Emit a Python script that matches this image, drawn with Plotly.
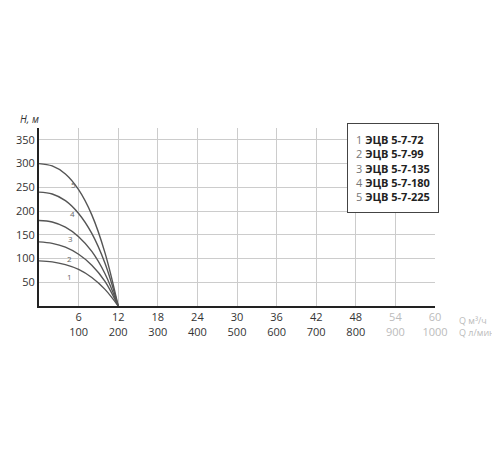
import plotly.graph_objects as go

# flow, m3/h
q = [0, 2, 4, 6, 8, 10, 12]
# head curves, m
h1 = [95, 93, 87, 77, 60, 35, 0]
h2 = [135, 132, 124, 109, 86, 52, 0]
h3 = [180, 177, 166, 146, 115, 68, 0]
h4 = [240, 236, 222, 195, 153, 90, 0]
h5 = [300, 295, 278, 245, 192, 112, 0]
curves = [h1, h2, h3, h4, h5]
curve_labels = ["1", "2", "3", "4", "5"]
label_pos = [(4.6, 62), (4.6, 100), (4.8, 142), (5.0, 195), (5.2, 255)]

x_ticks = [6, 12, 18, 24, 30, 36, 42, 48, 54, 60]
lpm_ticks = [100, 200, 300, 400, 500, 600, 700, 800, 900, 1000]
y_ticks = [50, 100, 150, 200, 250, 300, 350]
models = ["ЭЦВ 5-7-72", "ЭЦВ 5-7-99", "ЭЦВ 5-7-135", "ЭЦВ 5-7-180", "ЭЦВ 5-7-225"]

fig = go.Figure()
for h in curves:
    fig.add_trace(go.Scatter(x=q, y=h, mode="lines", line=dict(color="#555555", width=1.4,
                                                             shape="spline"),
                             showlegend=False, hoverinfo="skip"))

for lab, (lx, ly) in zip(curve_labels, label_pos):
    fig.add_annotation(x=lx, y=ly, text=lab, showarrow=False,
                       font=dict(size=8, color="#666666"))

tick_text = []
for i, (a, b) in enumerate(zip(x_ticks, lpm_ticks)):
    col = "#bbbbbb" if i >= 8 else "#333333"
    tick_text.append(f"<span style='color:{col}'>{a}<br>{b}</span>")

fig.add_annotation(x=1.0, y=0, xref="paper", yref="paper", xanchor="left", yanchor="top",
                   yshift=-6, xshift=22, showarrow=False, align="left",
                   text="Q м³/ч<br>Q л/мин", font=dict(size=9, color="#bbbbbb"))
fig.add_annotation(x=0, y=1.0, xref="paper", yref="paper", xanchor="right", yanchor="bottom",
                   xshift=2, showarrow=False, text="<i>H, м</i>",
                   font=dict(size=10, color="#333333"))

legend_text = "<br>".join(f"<span style='color:#777'>{i + 1}</span> <b>{m}</b>"
                          for i, m in enumerate(models))
fig.add_annotation(x=0.778, y=1.03, xref="paper", yref="paper", xanchor="left", yanchor="top",
                   showarrow=False, align="left", text=legend_text,
                   font=dict(size=11, color="#222222", family="Open Sans"),
                   bgcolor="white", bordercolor="#444444", borderwidth=1, borderpad=8)

fig.update_layout(
    width=500, height=450,
    margin=dict(l=31, r=73, t=120, b=152),
    plot_bgcolor="white", paper_bgcolor="white",
    font=dict(family="Open Sans", size=11, color="#333333"),
    xaxis=dict(range=[0, 60], tickvals=x_ticks, ticktext=tick_text, showgrid=True,
               gridcolor="#cccccc", showline=True, linecolor="#222222", linewidth=2,
               zeroline=False, ticks="", automargin=False),
    yaxis=dict(range=[0, 375], tickvals=y_ticks, showgrid=True, gridcolor="#cccccc",
               showline=True, linecolor="#222222", linewidth=2, zeroline=False, ticks="",
               automargin=False),
)

fig.write_html("out.html")
